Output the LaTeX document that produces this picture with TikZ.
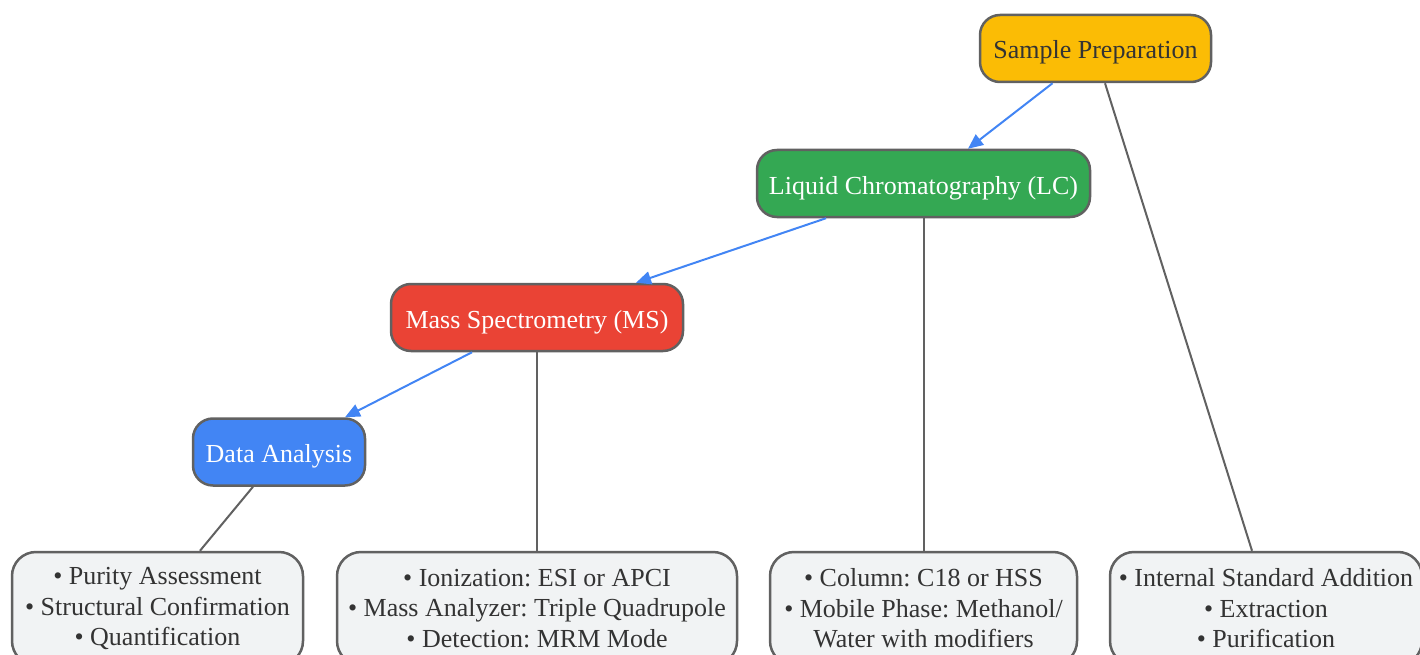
\documentclass[tikz,border=0pt]{standalone}
\usepackage{fontspec}
\setmainfont{Liberation Serif}
\usetikzlibrary{arrows.meta}
\frenchspacing

\definecolor{prepyellow}{HTML}{FBBC05}
\definecolor{lcgreen}{HTML}{34A853}
\definecolor{msred}{HTML}{EA4335}
\definecolor{dablue}{HTML}{4285F4}
\definecolor{rimgray}{HTML}{616161}
\definecolor{boxgray}{HTML}{F1F3F4}
\definecolor{inkgray}{HTML}{333333}

\begin{document}
\begin{tikzpicture}[x=1pt,y=-1pt,
    stage/.style={draw=rimgray, line width=2.5pt, rounded corners=20pt,
      minimum height=67pt, inner sep=0pt, text height=26pt, text depth=5pt,
      font=\fontsize{26}{30.5}\selectfont},
    detail/.style={draw=rimgray, line width=2.5pt, fill=boxgray, text=inkgray,
      align=center, inner sep=0pt, rounded corners=24pt, minimum height=113pt,
      font=\fontsize{26}{30.5}\selectfont},
    flow/.style={draw=dablue, line width=2pt, -{Triangle[length=15pt,width=13pt]}},
    link/.style={draw=rimgray, line width=2pt}]
        \useasboundingbox (0,0) rectangle (1420,655);

        % ---- main stages --------------------------------
        \node[stage, fill=prepyellow, text=inkgray, minimum width=231pt] (prep) at (1095.5,48.5) {Sample Preparation};
        \node[stage, fill=lcgreen, text=white, minimum width=333pt] (lc) at (923.5,183.5) {Liquid Chromatography (LC)};
        \node[stage, fill=msred, text=white, minimum width=292pt] (ms) at (537,317.5) {Mass Spectrometry (MS)};
        \node[stage, fill=dablue, text=white, minimum width=172pt] (data) at (279,452) {Data Analysis};

        % ---- details under each stage -------------------
        \node[detail, minimum width=291pt] (dataitems) at (157.5,608.5)
          {• Purity Assessment\\• Structural Confirmation\\• Quantification};
        \node[detail, minimum width=400pt] (msitems) at (537,608.5)
          {• Ionization: ESI or APCI\\• Mass Analyzer: Triple Quadrupole\\• Detection: MRM Mode};
        \node[detail, minimum width=307pt] (lcitems) at (923.5,608.5)
          {• Column: C18 or HSS\\• Mobile Phase: Methanol/\\Water with modifiers};
        \node[detail, minimum width=312pt] (prepitems) at (1266,608.5)
          {• Internal Standard Addition\\• Extraction\\• Purification};

        % ---- workflow arrows ----------------------------
        \draw[flow] ([xshift=-43pt]prep.south) -- ([xshift=44.5pt]lc.north);
        \draw[flow] ([xshift=-97.5pt]lc.south) -- ([xshift=99pt]ms.north);
        \draw[flow] ([xshift=-65pt]ms.south) -- ([xshift=66pt]data.north);

        % ---- links to details ---------------------------
        \draw[link] ([xshift=9.5pt]prep.south) -- ([xshift=-14pt]prepitems.north);
        \draw[link] (lc.south) -- (lcitems.north);
        \draw[link] (ms.south) -- (msitems.north);
        \draw[link] ([xshift=-26pt]data.south) -- ([xshift=42.5pt]dataitems.north);
    \end{tikzpicture}
\end{document}
